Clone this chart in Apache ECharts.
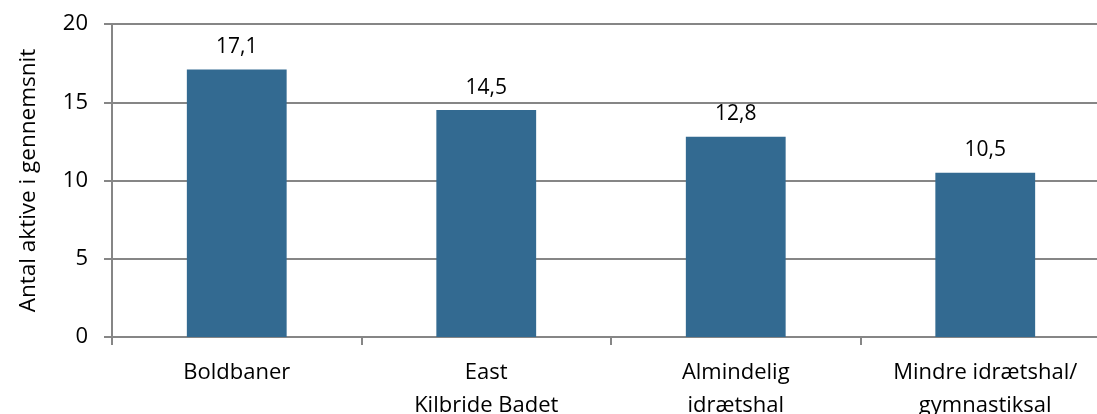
<!DOCTYPE html>
<html><head><meta charset="utf-8">
<script src="https://cdn.jsdelivr.net/npm/echarts@6/dist/echarts.min.js"></script>
<style>html,body{margin:0;padding:0;background:#fff}#c{width:1097px;height:414px}</style>
</head><body><div id="c"></div>
<script>
const categories = ["Boldbaner", "East\nKilbride Badet", "Almindelig\nidrætshal", "Mindre idrætshal/\ngymnastiksal"];
const values = [17.1, 14.5, 12.8, 10.5];
const yTicks = [0, 5, 10, 15, 20];
const yName = "Antal aktive i gennemsnit";
const font = "'Open Sans', 'Liberation Sans', sans-serif";
const chart = echarts.init(document.getElementById('c'));
chart.setOption({
  animation: false,
  grid: {left: 112, top: 24, width: 998, height: 313, containLabel: false, outerBoundsMode: 'none'},
  xAxis: {
    type: 'category', data: categories,
    axisLine: {lineStyle: {color: '#868686', width: 2}},
    axisTick: {show: true, alignWithLabel: false, length: 8, lineStyle: {color: '#868686', width: 2}},
    axisLabel: {color: '#000', fontSize: 22, fontFamily: font, margin: 19, lineHeight: 33, interval: 0}
  },
  yAxis: {
    type: 'value', min: yTicks[0], max: yTicks[yTicks.length-1], interval: 5,
    name: yName, nameLocation: 'middle', nameGap: 72, nameRotate: 90,
    nameTextStyle: {color: '#000', fontSize: 22.5, fontFamily: font},
    axisLine: {show: true, lineStyle: {color: '#868686', width: 2}},
    axisTick: {show: true, length: 8, lineStyle: {color: '#868686', width: 2}},
    axisLabel: {color: '#000', fontSize: 22, fontFamily: font, margin: 24},
    splitLine: {show: true, lineStyle: {color: '#868686', width: 2}}
  },
  series: [{
    type: 'bar', data: values, barWidth: '40%',
    itemStyle: {color: '#336A91'},
    label: {show: true, position: 'top', distance: 12, color: '#000', fontSize: 21, fontFamily: font,
      formatter: p => String(p.value.toFixed(1)).replace('.', ',')}
  }]
});
</script></body></html>
